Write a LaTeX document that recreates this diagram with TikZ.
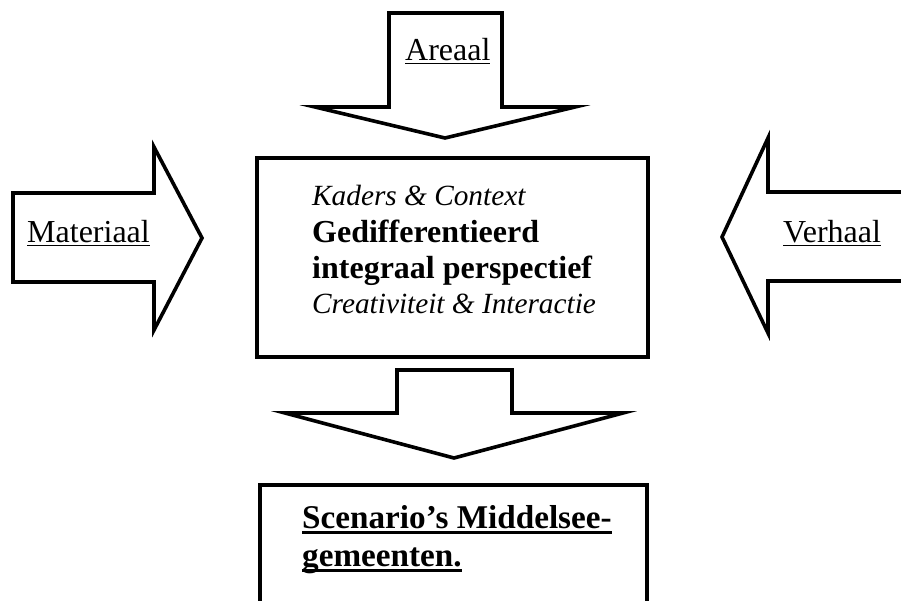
\documentclass[tikz,border=0pt]{standalone}
\usepackage{fontspec}
\setmainfont{Liberation Serif}
\newcommand{\myul}[3]{\setbox0\hbox{#1}\rlap{\rule[-#2]{\wd0}{#3}}\box0}
\tikzset{
  blockshape/.style={draw=black, line width=3.6pt, fill=white, line join=miter},
  lbl/.style={anchor=base west, inner sep=0pt, font=\fontsize{32}{36}\selectfont},
  itlbl/.style={lbl, font=\fontsize{29.3}{34}\selectfont\itshape},
  bflbl/.style={lbl, font=\fontsize{32}{36}\selectfont\bfseries},
  sclbl/.style={lbl, font=\fontsize{33.2}{37}\selectfont\bfseries},
}
\begin{document}
\begin{tikzpicture}[x=1pt,y=-1pt]
\useasboundingbox (0,0) rectangle (901,600);
% top arrow
\draw[blockshape] (389,13) -- (502,13) -- (502,107) -- (575,107) -- (445,138) -- (315,107) -- (389,107) -- cycle;
% left arrow
\draw[blockshape] (13,193) -- (154,193) -- (154,147) -- (202,238) -- (154,330) -- (154,282) -- (13,282) -- cycle;
% right arrow
\draw[blockshape] (905,192) -- (768,192) -- (768,138) -- (722,237) -- (768,333) -- (768,281) -- (905,281);
% central box
\draw[blockshape] (257,158) rectangle (648,357);
% bottom arrow
\draw[blockshape] (397,370) -- (512,370) -- (512,413) -- (623,413) -- (454,458) -- (285,413) -- (397,413) -- cycle;
% bottom box
\draw[blockshape] (260,610) -- (260,485) -- (647,485) -- (647,610);
% labels
\node[lbl] (areaal) at (405,60) {\myul{Areaal}{4pt}{1.5pt}};
\node[lbl] (materiaal) at (27,242) {\myul{Materiaal}{4pt}{1.5pt}};
\node[lbl] (verhaal) at (783,242) {\myul{Verhaal}{4pt}{1.5pt}};
\node[itlbl] (l1) at (312,205) {Kaders \& Context};
\node[bflbl] (l2) at (312,242) {Gedifferentieerd};
\node[bflbl] (l3) at (312,278) {integraal perspectief};
\node[itlbl] (l4) at (312,313) {Creativiteit \& Interactie};
\node[sclbl] (s1) at (302,528) {\myul{Scenario’s Middelsee-}{6pt}{3pt}};
\node[sclbl] (s2) at (302,566) {\myul{gemeenten.}{6pt}{3pt}};
\end{tikzpicture}
\end{document}
